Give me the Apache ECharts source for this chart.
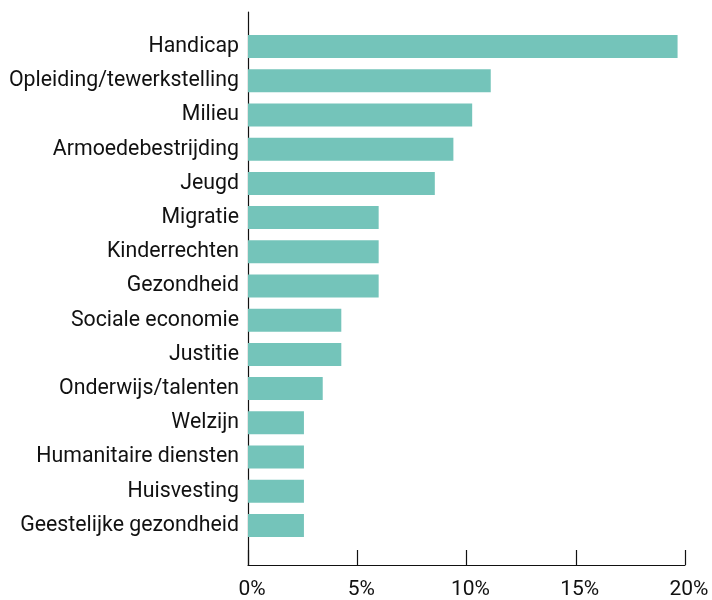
<!DOCTYPE html>
<html><head><meta charset="utf-8">
<script src="https://cdn.jsdelivr.net/npm/echarts@6/dist/echarts.min.js"></script>
<style>html,body{margin:0;padding:0;background:#fff}#c{width:712px;height:600px}</style>
</head><body><div id="c"></div>
<script>
const categories = ["Handicap","Opleiding/tewerkstelling","Milieu","Armoedebestrijding","Jeugd","Migratie","Kinderrechten","Gezondheid","Sociale economie","Justitie","Onderwijs/talenten","Welzijn","Humanitaire diensten","Huisvesting","Geestelijke gezondheid"];
const values = [19.66,11.11,10.26,9.40,8.55,5.98,5.98,5.98,4.27,4.27,3.42,2.56,2.56,2.56,2.56];
const tickValues = [0,5,10,15,20];
const FONT = 'Roboto';
const chart = echarts.init(document.getElementById('c'), null, {renderer:'canvas'});
chart.setOption({
  animation:false,
  grid:[
    {left:248,right:27,top:29.5,bottom:57.5},
    {left:248,right:27,top:12,bottom:32}
  ],
  xAxis:[
    {gridIndex:0,type:'value',min:0,max:20,show:false},
    {gridIndex:1,type:'value',min:0,max:20,interval:5,
     axisLine:{show:true,lineStyle:{color:'#111',width:1.2}},
     axisTick:{show:true,inside:true,length:15,lineStyle:{color:'#111',width:1.2}},
     splitLine:{show:false},
     axisLabel:{formatter:v=>tickValues.includes(v)?v+'%':'',color:'#111',fontFamily:FONT,fontSize:21,margin:14,padding:[0,0,0,8]}}
  ],
  yAxis:[
    {gridIndex:0,type:'category',data:categories,inverse:true,
     axisLine:{show:false},axisTick:{show:false},
     axisLabel:{color:'#111',fontFamily:FONT,fontSize:21.3,margin:9}},
    {gridIndex:1,type:'value',min:0,max:1,
     axisLine:{show:true,lineStyle:{color:'#111',width:1.2}},
     axisTick:{show:false},axisLabel:{show:false},splitLine:{show:false}}
  ],
  series:[{type:'bar',xAxisIndex:0,yAxisIndex:0,data:values,barWidth:23,
    itemStyle:{color:'#74C4BA'}}]
});
</script></body></html>
